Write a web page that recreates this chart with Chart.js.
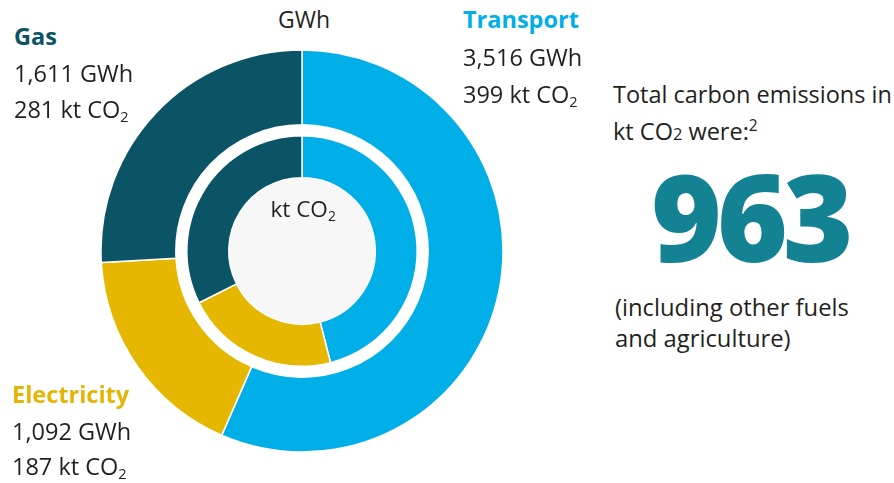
<!DOCTYPE html>
<html>
<head>
<meta charset="utf-8">
<script src="https://cdn.jsdelivr.net/npm/chart.js@4.4.1/dist/chart.umd.min.js"></script>
<style>
  html, body { margin: 0; padding: 0; background: #fff; }
  #page { position: relative; width: 894px; height: 483px; overflow: hidden;
          font-family: "Open Sans", "Noto Sans", sans-serif; color: #231f20; }
  #ring { position: absolute; left: 101px; top: 50px; width: 402px; height: 402px; }
  .t { position: absolute; white-space: nowrap; line-height: 1; }
  .b { font-weight: 700; }
  sub { font-size: 0.62em; vertical-align: -0.3em; line-height: 0; }
  .sm { font-size: 0.7em; }
  sup { font-size: 0.66em; vertical-align: 0.55em; line-height: 0; }
</style>
</head>
<body>
<div id="page">
  <div id="ring"><canvas id="donut"></canvas></div>
</div>
<script>
// Data
const categories = ['Transport', 'Electricity', 'Gas'];
const energyGWh = [3516, 1092, 1611];
const carbonKt = [399, 187, 281];
const totalKt = 963;
const colors = ['#00aee8', '#e6b700', '#0b5466'];

// Text labels: [html, x, baseline, size, extra class, colour, align]
const labels = [
  ['GWh', 304, 28, 23, '', '', 'center'],
  ['kt CO<sub>2</sub>', 303, 218, 22.5, '', '', 'center'],
  ['Gas', 14, 46, 23.5, 'b', colors[2], 'left'],
  ['1,611 GWh', 14, 83, 23.5, '', '', 'left'],
  ['281 kt CO<sub>2</sub>', 14, 119, 23.5, '', '', 'left'],
  ['Transport', 463, 29, 23.5, 'b', colors[0], 'left'],
  ['3,516 GWh', 463, 67, 23.5, '', '', 'left'],
  ['399 kt CO<sub>2</sub>', 463, 104, 23.5, '', '', 'left'],
  ['Electricity', 12, 404, 23.5, 'b', '#e3b505', 'left'],
  ['1,092 GWh', 12, 441, 23.5, '', '', 'left'],
  ['187 kt CO<sub>2</sub>', 12, 476, 23.5, '', '', 'left'],
  ['Total carbon emissions in', 613, 104, 23.5, '', '', 'left'],
  ['kt CO<span class="sm">2</span> were:<sup>2</sup>', 613, 141, 23.5, '', '', 'left'],
  [String(totalKt), 750, 262, 121, 'b', '#138393', 'center'],
  ['(including other fuels', 615, 317, 23.8, '', '', 'left'],
  ['and agriculture)', 615, 348, 23.8, '', '', 'left']
];

const page = document.getElementById('page');
labels.forEach(([html, x, base, size, cls, col, align]) => {
  const d = document.createElement('div');
  d.className = 't ' + cls;
  d.innerHTML = html;
  d.style.fontSize = size + 'px';
  d.style.top = (base - size * 0.888) + 'px';
  if (col) d.style.color = col;
  if (cls === 'b' && size > 60) { d.style.fontWeight = 800; d.style.letterSpacing = '-5px'; }
  page.appendChild(d);
  if (align === 'center') d.style.left = (x - d.offsetWidth / 2) + 'px';
  else d.style.left = x + 'px';
});

// light grey fill in the hole
const holeFill = {
  id: 'holeFill',
  beforeDatasetsDraw(chart) {
    const arc = chart.getDatasetMeta(2).data[0];
    if (!arc) return;
    const ctx = chart.ctx;
    ctx.save();
    ctx.fillStyle = '#f7f7f7';
    ctx.beginPath();
    ctx.arc(arc.x, arc.y, arc.innerRadius, 0, Math.PI * 2);
    ctx.fill();
    ctx.restore();
  }
};

new Chart(document.getElementById('donut'), {
  type: 'doughnut',
  data: {
    labels: categories,
    datasets: [
      { label: 'GWh', data: energyGWh, backgroundColor: colors, borderColor: '#fff', borderWidth: 1.5, weight: 75 },
      { label: 'gap', data: [1], backgroundColor: 'rgba(0,0,0,0)', borderWidth: 0, weight: 11 },
      { label: 'kt CO2', data: carbonKt, backgroundColor: colors, borderColor: '#fff', borderWidth: 1.5, weight: 42 }
    ]
  },
  options: {
    responsive: true,
    maintainAspectRatio: false,
    animation: false,
    radius: 201,
    cutout: 73,
    layout: { padding: 0 },
    plugins: { legend: { display: false }, tooltip: { enabled: false } },
    events: []
  },
  plugins: [holeFill]
});
</script>
</body>
</html>
